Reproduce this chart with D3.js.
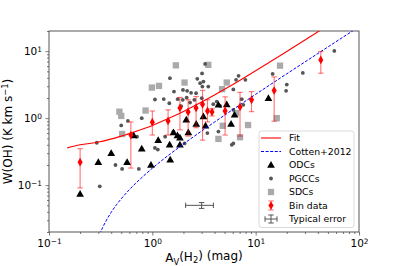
<!DOCTYPE html>
<html>
<head>
<meta charset="utf-8">
<script src="https://cdn.jsdelivr.net/npm/d3@7"></script>
<style>
  body { margin: 0; background: #fff; }
  text { font-family: "DejaVu Sans", sans-serif; }
</style>
</head>
<body>
<script>
// ODCs (black triangles)
const odcAv = [0.20, 0.30, 0.40, 0.57, 0.66, 0.79, 0.97, 1.14, 1.49, 1.47, 1.60, 1.75, 1.85, 1.85, 2.13, 2.23, 2.66, 3.12, 3.27, 4.36, 5.25, 6.25, 5.78, 13.3];
const odcW  = [0.074, 0.22, 0.30, 0.22, 0.55, 0.35, 0.20, 0.47, 0.24, 0.40, 0.61, 0.55, 0.51, 0.40, 0.95, 0.61, 0.82, 1.06, 0.77, 1.58, 1.60, 1.12, 0.82, 1.98];

// PGCCs (small grey dots)
const pgccAv = [0.29, 0.31, 0.44, 0.51, 0.74, 0.50, 0.58, 0.79, 0.71, 1.06, 1.13, 1.33, 1.60, 2.05,
  1.48, 1.62, 1.29, 1.06, 1.46, 1.76, 1.98, 2.17, 2.37, 2.65, 2.72, 2.90, 2.55, 1.97, 1.90, 2.32,
  3.05, 3.01, 3.24, 3.03, 3.12, 6.83, 6.46, 7.95, 6.08, 14.6, 7.33, 4.20, 3.89, 4.52, 6.08, 7.60,
  20.0, 19.7, 28.6, 57.7, 3.41, 4.36, 5.87, 6.08, 3.48, 2.15];
const pgccW  = [0.43, 0.096, 0.20, 0.175, 0.175, 0.78, 0.91, 1.00, 0.53, 0.36, 0.34, 0.53, 0.63, 0.42,
  3.95, 2.49, 1.93, 1.90, 1.67, 1.92, 2.64, 2.56, 2.39, 2.36, 3.86, 3.33, 1.88, 1.88, 1.51, 1.71,
  2.96, 1.99, 6.46, 4.66, 3.52, 4.28, 3.73, 3.73, 2.69, 4.58, 1.92, 1.77, 1.62, 1.53, 1.33, 1.58,
  3.17, 2.56, 4.74, 10.1, 0.60, 0.63, 0.40, 0.42, 2.96, 2.03];

// SDCs (light grey squares)
const sdcAv = [0.48, 0.50, 0.51, 0.86, 0.99, 1.16, 1.69, 2.05, 3.48, 4.73, 5.25, 6.46, 4.80, 4.36, 7.06, 8.44, 16.0, 17.2];
const sdcW  = [1.25, 1.08, 0.58, 1.30, 2.86, 3.03, 6.14, 3.40, 6.25, 2.71, 3.40, 1.19, 0.77, 0.49, 0.52, 0.79, 1.00, 6.08];

// binned data with error range
const binAv = [0.20, 0.62, 1.00, 1.42, 1.85, 2.22, 2.65, 3.06, 3.42, 3.78, 5.06, 7.06, 9.12, 15.1, 42.7];
const binW  = [0.22, 0.56, 0.87, 0.91, 1.42, 1.24, 1.42, 1.61, 1.28, 1.24, 1.28, 1.47, 1.88, 2.58, 7.41];
const binHi = [0.35, 0.88, 1.28, 1.33, 2.04, 1.88, 2.10, 2.60, 1.88, 1.38, 2.08, 2.43, 2.49, 4.13, 9.86];
const binLo = [0.091, 0.18, 0.56, 0.56, 0.67, 0.54, 0.72, 0.47, 0.88, 1.08, 0.56, 0.54, 1.25, 0.90, 4.69];

// curves
const fitAv = [0.15, 0.2, 0.3, 0.5, 0.7, 1, 1.5, 2, 3, 5, 7, 10, 15, 20, 30, 42.4];
const fitW  = [0.36, 0.40, 0.44, 0.54, 0.64, 0.78, 1.02, 1.26, 1.74, 2.70, 3.66, 5.1, 7.5, 9.9, 14.7, 20.6];
const cottenAv = [0.31, 0.32, 0.33, 0.35, 0.4, 0.45, 0.5, 0.6, 0.7, 0.8, 1, 1.5, 2, 3, 5, 10, 20, 50, 100];
const cottenW  = [0.0186, 0.0209, 0.0232, 0.0278, 0.0394, 0.051, 0.0626, 0.0858, 0.109, 0.132, 0.179, 0.295, 0.411, 0.643, 1.107, 2.27, 4.59, 11.55, 23.15];

// typical error marker
const typAv = 3.0, typW = 0.05, typXerr = 0.9, typYerr = 0.005;

const xTicks = [0.1, 1, 10, 100];
const yTicks = [0.1, 1, 10];
const tickExp = { 0.1: "\u22121", 1: "0", 10: "1", 100: "2" };
const legendLabels = ["Fit", "Cotten+2012", "ODCs", "PGCCs", "SDCs", "Bin data", "Typical error"];

const w = 399, h = 266;
const svg = d3.select("body").append("svg")
  .attr("width", w).attr("height", h);

const x = d3.scaleLog().domain([0.1, 100]).range([49, 359]);
const y = d3.scaleLog().domain([0.02, 20]).range([232, 31]);

svg.append("defs").append("clipPath").attr("id", "plotclip")
  .append("rect").attr("x", 49).attr("y", 31).attr("width", 310).attr("height", 201);

const minorOf = (lo, hi) => {
  const out = [];
  for (let e = -2; e <= 2; e++) {
    for (let k = 2; k <= 9; k++) {
      const v = k * Math.pow(10, e);
      if (v >= lo * 0.999 && v <= hi * 1.001) out.push(v);
    }
  }
  return out;
};

const sup = (sel) => {
  sel.text(null);
  sel.append("tspan").text("10");
  sel.append("tspan").attr("dy", "-0.45em").attr("font-size", "7.4px").text(d => tickExp[d]);
};

// x axis
const gx = svg.append("g").attr("transform", "translate(0,232)");
gx.call(d3.axisBottom(x).tickValues(xTicks).tickSize(3.5).tickPadding(4));
gx.selectAll(".tick text").attr("font-size", "10.5px").attr("fill", "#000")
  .attr("font-family", "DejaVu Sans").call(sup);
const gxm = svg.append("g").attr("transform", "translate(0,232)");
gxm.call(d3.axisBottom(x).tickValues(minorOf(0.1, 100)).tickSize(2).tickFormat(""));

// y axis
const gy = svg.append("g").attr("transform", "translate(49,0)");
gy.call(d3.axisLeft(y).tickValues(yTicks).tickSize(3.5).tickPadding(3.5));
gy.selectAll(".tick text").attr("font-size", "10.5px").attr("fill", "#000")
  .attr("font-family", "DejaVu Sans").call(sup);
const gym = svg.append("g").attr("transform", "translate(49,0)");
gym.call(d3.axisLeft(y).tickValues(minorOf(0.02, 20)).tickSize(2).tickFormat(""));

svg.selectAll(".domain").remove();
svg.selectAll(".tick line").attr("stroke", "#444").attr("stroke-width", 0.7);

// frame
svg.append("rect").attr("x", 49).attr("y", 31).attr("width", 310).attr("height", 201)
  .attr("fill", "none").attr("stroke", "#444").attr("stroke-width", 0.9);

// axis titles
const xt = svg.append("text").attr("x", 204).attr("y", 262)
  .attr("text-anchor", "middle").attr("font-size", "12px");
xt.append("tspan").text("A");
xt.append("tspan").attr("dy", "0.3em").attr("font-size", "8.4px").text("V");
xt.append("tspan").attr("dy", "-0.3em").text("(H");
xt.append("tspan").attr("dy", "0.3em").attr("font-size", "8.4px").text("2");
xt.append("tspan").attr("dy", "-0.3em").text(") (mag)");

const yt = svg.append("text").attr("transform", "translate(12,131.5) rotate(-90)")
  .attr("text-anchor", "middle").attr("font-size", "12px");
yt.append("tspan").text("W(OH) (K km s");
yt.append("tspan").attr("dy", "-0.45em").attr("font-size", "8.4px").text("\u22121");
yt.append("tspan").attr("dy", "0.3em").text(")");

const plot = svg.append("g").attr("clip-path", "url(#plotclip)");

const tri = d3.symbol().type(d3.symbolTriangle).size(26);
const sq = d3.symbol().type(d3.symbolSquare).size(40);
const dia = d3.symbol().type(d3.symbolDiamond).size(22);

// scatter
plot.selectAll(".sdc").data(d3.zip(sdcAv, sdcW)).enter().append("path")
  .attr("class", "sdc").attr("d", sq)
  .attr("transform", d => `translate(${x(d[0])},${y(d[1])})`)
  .attr("fill", "#aaaaaa");

plot.selectAll(".pgcc").data(d3.zip(pgccAv, pgccW)).enter().append("circle")
  .attr("class", "pgcc").attr("cx", d => x(d[0])).attr("cy", d => y(d[1]))
  .attr("r", 1.9).attr("fill", "#555");

plot.selectAll(".odc").data(d3.zip(odcAv, odcW)).enter().append("path")
  .attr("class", "odc").attr("d", tri)
  .attr("transform", d => `translate(${x(d[0])},${y(d[1]) + 0.5})`)
  .attr("fill", "#000");

// lines
const line = d3.line().x(d => x(d[0])).y(d => y(d[1])).curve(d3.curveMonotoneX);
plot.append("path").datum(d3.zip(fitAv, fitW)).attr("d", line)
  .attr("fill", "none").attr("stroke", "#ff0000").attr("stroke-width", 1.1);
plot.append("path").datum(d3.zip(cottenAv, cottenW)).attr("d", line)
  .attr("fill", "none").attr("stroke", "#0000ff").attr("stroke-width", 1)
  .attr("stroke-dasharray", "3,1.6");

// bins with error bars
const errCol = "rgba(255,0,0,0.55)";
const bins = binAv.map((a, i) => ({ a, w: binW[i], lo: binLo[i], hi: binHi[i] }));
const bg = plot.selectAll(".bin").data(bins).enter().append("g").attr("class", "bin");
bg.append("line").attr("x1", d => x(d.a)).attr("x2", d => x(d.a))
  .attr("y1", d => y(d.hi)).attr("y2", d => y(d.lo))
  .attr("stroke", errCol).attr("stroke-width", 1.1);
bg.append("line").attr("x1", d => x(d.a) - 2.7).attr("x2", d => x(d.a) + 2.7)
  .attr("y1", d => y(d.hi)).attr("y2", d => y(d.hi))
  .attr("stroke", errCol).attr("stroke-width", 1.1);
bg.append("line").attr("x1", d => x(d.a) - 2.7).attr("x2", d => x(d.a) + 2.7)
  .attr("y1", d => y(d.lo)).attr("y2", d => y(d.lo))
  .attr("stroke", errCol).attr("stroke-width", 1.1);
bg.append("path").attr("d", dia)
  .attr("transform", d => `translate(${x(d.a)},${y(d.w)})`)
  .attr("fill", "#ff0000");

// typical error
const tx = x(typAv), ty = y(typW);
const tg = plot.append("g").attr("stroke", "#555").attr("stroke-width", 1);
tg.append("line").attr("x1", x(typAv - typXerr)).attr("x2", x(typAv + typXerr)).attr("y1", ty).attr("y2", ty);
tg.append("line").attr("x1", x(typAv - typXerr)).attr("x2", x(typAv - typXerr)).attr("y1", ty - 2.7).attr("y2", ty + 2.7);
tg.append("line").attr("x1", x(typAv + typXerr)).attr("x2", x(typAv + typXerr)).attr("y1", ty - 2.7).attr("y2", ty + 2.7);
tg.append("line").attr("x1", tx).attr("x2", tx).attr("y1", y(typW + typYerr)).attr("y2", y(typW - typYerr));
tg.append("line").attr("x1", tx - 2.7).attr("x2", tx + 2.7).attr("y1", y(typW + typYerr)).attr("y2", y(typW + typYerr));
tg.append("line").attr("x1", tx - 2.7).attr("x2", tx + 2.7).attr("y1", y(typW - typYerr)).attr("y2", y(typW - typYerr));

// legend
const lg = svg.append("g").attr("transform", "translate(259,131)");
lg.append("rect").attr("width", 95).attr("height", 96.5).attr("rx", 2.5)
  .attr("fill", "rgba(255,255,255,0.8)").attr("stroke", "#d0d0d0").attr("stroke-width", 0.8);
const rows = lg.selectAll(".row").data(legendLabels).enter().append("g")
  .attr("transform", (d, i) => `translate(0,${7 + i * 13.5})`);
rows.append("text").attr("x", 30).attr("y", 3.4).attr("font-size", "9.3px").text(d => d);

const hx0 = 2, hx1 = 22, hc = 12;
rows.each(function (d, i) {
  const r = d3.select(this);
  if (i === 0) {
    r.append("line").attr("x1", hx0).attr("x2", hx1).attr("stroke", "#ff0000").attr("stroke-width", 1.1);
  } else if (i === 1) {
    r.append("line").attr("x1", hx0).attr("x2", hx1).attr("stroke", "#0000ff")
      .attr("stroke-width", 1).attr("stroke-dasharray", "3,1.6");
  } else if (i === 2) {
    r.append("path").attr("d", tri).attr("transform", `translate(${hc},0.5)`).attr("fill", "#000");
  } else if (i === 3) {
    r.append("circle").attr("cx", hc).attr("r", 1.9).attr("fill", "#555");
  } else if (i === 4) {
    r.append("path").attr("d", sq).attr("transform", `translate(${hc},0)`).attr("fill", "#aaaaaa");
  } else if (i === 5) {
    r.append("line").attr("x1", hc).attr("x2", hc).attr("y1", -4.5).attr("y2", 4.5).attr("stroke", errCol).attr("stroke-width", 1.1);
    r.append("line").attr("x1", hc - 2.7).attr("x2", hc + 2.7).attr("y1", -4.5).attr("y2", -4.5).attr("stroke", errCol).attr("stroke-width", 1.1);
    r.append("line").attr("x1", hc - 2.7).attr("x2", hc + 2.7).attr("y1", 4.5).attr("y2", 4.5).attr("stroke", errCol).attr("stroke-width", 1.1);
    r.append("path").attr("d", dia).attr("transform", `translate(${hc},0)`).attr("fill", "#ff0000");
  } else {
    const e = r.append("g").attr("stroke", "#555").attr("stroke-width", 1);
    e.append("line").attr("x1", hc - 6).attr("x2", hc + 6);
    e.append("line").attr("x1", hc - 6).attr("x2", hc - 6).attr("y1", -2.7).attr("y2", 2.7);
    e.append("line").attr("x1", hc + 6).attr("x2", hc + 6).attr("y1", -2.7).attr("y2", 2.7);
    e.append("line").attr("x1", hc).attr("x2", hc).attr("y1", -4).attr("y2", 4);
    e.append("line").attr("x1", hc - 2.7).attr("x2", hc + 2.7).attr("y1", -4).attr("y2", -4);
    e.append("line").attr("x1", hc - 2.7).attr("x2", hc + 2.7).attr("y1", 4).attr("y2", 4);
  }
});
</script>
</body>
</html>
